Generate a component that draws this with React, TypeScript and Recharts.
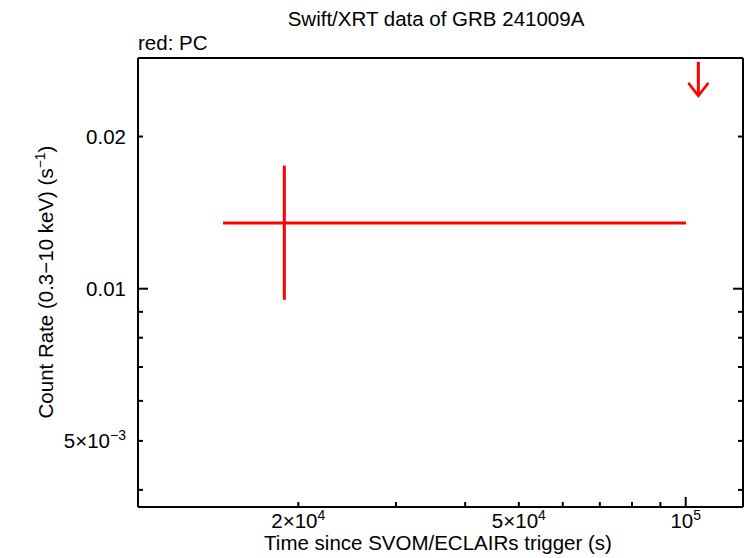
import React from "react";
import { ScatterChart, Scatter, XAxis, YAxis, ErrorBar } from "recharts";

// PC mode detection
const pcTime = [18870];
const pcTimeLo = [14630];
const pcTimeHi = [100100];
const pcRate = [0.01349];
const pcRateLo = [0.00951];
const pcRateHi = [0.01752];

// PC upper limit
const ulTime = [105400];
const ulRate = [0.0281];

const xTicks = [20000, 30000, 40000, 50000, 60000, 70000, 80000, 90000, 100000];
const xMajor = [100000];
const xLabelAt = [20000, 50000, 100000];
const xLabelBase = ["2×10", "5×10", "10"];
const xLabelExp = ["4", "4", "5"];

const yTicks = [0.004, 0.005, 0.006, 0.007, 0.008, 0.009, 0.01, 0.02];
const yMajor = [0.01];
const yLabelAt = [0.005, 0.01, 0.02];
const yLabelBase = ["5×10", "0.01", "0.02"];
const yLabelExp = ["−3", "", ""];

const xDomain = [10274, 126880];
const yDomain = [0.0037, 0.0286];

const RED = "#ff0000";
const FONT = "'Liberation Sans', Arial, sans-serif";
const FS = 20.5;

const points = pcTime.map((t, i) => ({
  t,
  r: pcRate[i],
  xErr: [t - pcTimeLo[i], pcTimeHi[i] - t],
  yErr: [pcRate[i] - pcRateLo[i], pcRateHi[i] - pcRate[i]],
}));

const limits = ulTime.map((t, i) => ({ t, r: ulRate[i] }));

function Label(props: { x: number; y: number; base: string; exp: string; anchor: string }) {
  return (
    <text x={props.x} y={props.y} textAnchor={props.anchor} fontFamily={FONT} fontSize={FS} fill="#000">
      {props.base}
      {props.exp ? (
        <tspan dy={-8} fontSize={14}>
          {props.exp}
        </tspan>
      ) : null}
    </text>
  );
}

function makeTick(side: string) {
  return (p: any) => {
    const v = p.payload.value;
    const isX = side === "bottom" || side === "top";
    const major = (isX ? xMajor : yMajor).includes(v);
    const len = major ? 10 : 5;
    let line;
    if (side === "bottom") line = <line x1={p.x} y1={p.y} x2={p.x} y2={p.y - len} />;
    else if (side === "top") line = <line x1={p.x} y1={p.y} x2={p.x} y2={p.y + len} />;
    else if (side === "left") line = <line x1={p.x} y1={p.y} x2={p.x + len} y2={p.y} />;
    else line = <line x1={p.x} y1={p.y} x2={p.x - len} y2={p.y} />;

    let label = null;
    if (side === "bottom") {
      const i = xLabelAt.indexOf(v);
      if (i >= 0) label = <Label x={p.x} y={p.y + 21} base={xLabelBase[i]} exp={xLabelExp[i]} anchor="middle" />;
    } else if (side === "left") {
      const i = yLabelAt.indexOf(v);
      if (i >= 0) label = <Label x={p.x - 12} y={p.y + 7} base={yLabelBase[i]} exp={yLabelExp[i]} anchor="end" />;
    }
    return (
      <g>
        <g stroke="#000" strokeWidth={2}>{line}</g>
        {label}
      </g>
    );
  };
}

function Arrow(p: any) {
  const { cx, cy } = p;
  return (
    <g stroke={RED} fill="none" strokeWidth={3}>
      <line x1={cx} y1={cy} x2={cx} y2={cy + 34} />
      <polyline points={`${cx - 10},${cy + 21} ${cx},${cy + 34} ${cx + 10},${cy + 21}`} strokeWidth={2.5} />
    </g>
  );
}

const axisLine = { stroke: "#000", strokeWidth: 2 };

export default function App() {
  return (
    <div style={{ position: "relative", width: 746, height: 558, background: "#fff" }}>
      <style>{`body{margin:0}`}</style>
      <ScatterChart width={746} height={558} margin={{ top: 0, right: 0, bottom: 0, left: 0 }}>
        <XAxis
          xAxisId="b"
          dataKey="t"
          type="number"
          scale="log"
          domain={xDomain}
          allowDataOverflow
          ticks={xTicks}
          interval={0}
          height={51}
          tickSize={0}
          tickMargin={0}
          tickLine={false}
          axisLine={axisLine}
          tick={makeTick("bottom")}
        />
        <XAxis
          xAxisId="t"
          orientation="top"
          type="number"
          scale="log"
          domain={xDomain}
          allowDataOverflow
          ticks={xTicks}
          interval={0}
          height={58}
          tickSize={0}
          tickMargin={0}
          tickLine={false}
          axisLine={axisLine}
          tick={makeTick("top")}
        />
        <YAxis
          yAxisId="l"
          dataKey="r"
          type="number"
          scale="log"
          domain={yDomain}
          allowDataOverflow
          ticks={yTicks}
          interval={0}
          width={138}
          tickSize={0}
          tickMargin={0}
          tickLine={false}
          axisLine={axisLine}
          tick={makeTick("left")}
        />
        <YAxis
          yAxisId="r"
          orientation="right"
          type="number"
          scale="log"
          domain={yDomain}
          allowDataOverflow
          ticks={yTicks}
          interval={0}
          width={3}
          tickSize={0}
          tickMargin={0}
          tickLine={false}
          axisLine={axisLine}
          tick={makeTick("right")}
        />
        <Scatter xAxisId="b" yAxisId="l" data={points} shape={() => <g />} isAnimationActive={false}>
          <ErrorBar dataKey="xErr" direction="x" width={0} stroke={RED} strokeWidth={3} isAnimationActive={false} />
          <ErrorBar dataKey="yErr" direction="y" width={0} stroke={RED} strokeWidth={3} isAnimationActive={false} />
        </Scatter>
        <Scatter xAxisId="b" yAxisId="l" data={limits} shape={Arrow} isAnimationActive={false} />
      </ScatterChart>
      <svg width={746} height={558} style={{ position: "absolute", left: 0, top: 0, pointerEvents: "none" }}>
        <g fontFamily={FONT} fontSize={FS} fill="#000">
          <text x={436} y={26} textAnchor="middle">Swift/XRT data of GRB 241009A</text>
          <text x={138} y={50}>red: PC</text>
          <text x={438} y={550} textAnchor="middle">Time since SVOM/ECLAIRs trigger (s)</text>
          <text transform="translate(53,282) rotate(-90)" textAnchor="middle">
            Count Rate (0.3−10 keV) (s
            <tspan dy={-8} fontSize={14}>−1</tspan>
            <tspan dy={8}>)</tspan>
          </text>
        </g>
      </svg>
    </div>
  );
}
